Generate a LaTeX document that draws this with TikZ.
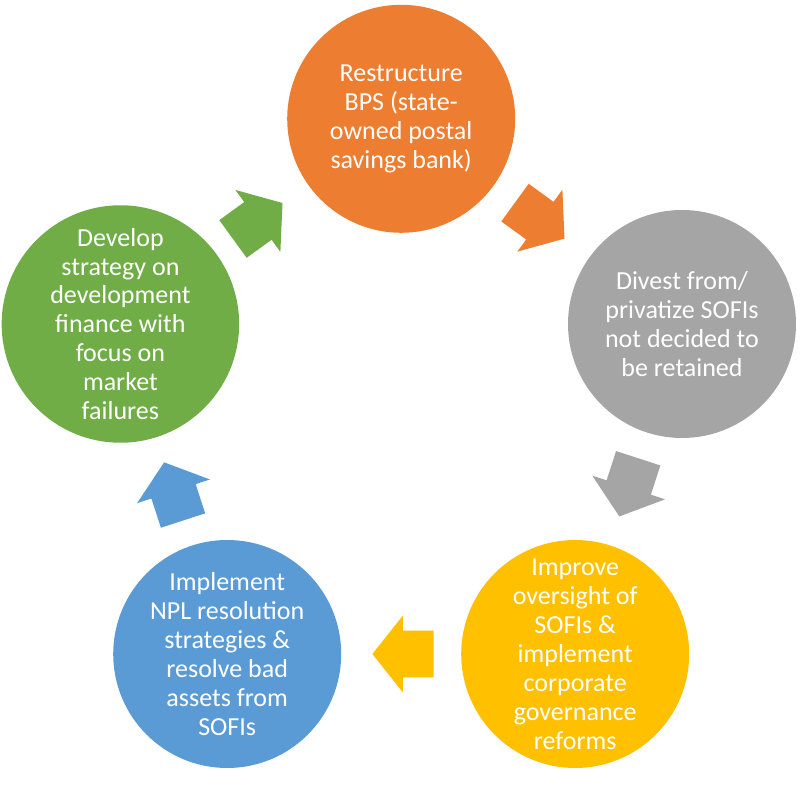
\documentclass[tikz,border=0pt]{standalone}
\usepackage{fontspec}
\setmainfont{Carlito}
\usetikzlibrary{positioning,shapes}
\definecolor{Tangerine}{HTML}{ED7D31}
\definecolor{Ash}{HTML}{A5A5A5}
\definecolor{Amber}{HTML}{FFC000}
\definecolor{Cornflower}{HTML}{5B9BD5}
\definecolor{Leaf}{HTML}{70AD47}

\begin{document}
\begin{tikzpicture}[
  stage/.style={circle, minimum size=5.7cm, inner sep=0pt, text=white, align=center, font=\fontsize{18.5}{20.6}\selectfont},
  turn/.style={single arrow, anchor=tip, minimum height=1.53cm, minimum width=1.9cm, single arrow head extend=0.375cm, single arrow tip angle=103, inner xsep=0pt, inner ysep=0.575cm}
]
\useasboundingbox (0,0) rectangle (20,20);

% Stages of the cycle
\node[stage, fill=Tangerine] (s1) at (10.03,17.03) {Restructure\\BPS (state-\\owned postal\\savings bank)};
\node[stage, fill=Ash] (s2) at (17.05,11.9) {Divest from/\\privatize SOFIs\\not decided to\\be retained};
\node[stage, fill=Amber] (s3) at (14.38,3.65) {Improve\\oversight of\\SOFIs \&\\implement\\corporate\\governance\\reforms};
\node[stage, fill=Cornflower] (s4) at (5.68,3.65) {Implement\\NPL resolution\\strategies \&\\resolve bad\\assets from\\SOFIs};
\node[stage, fill=Leaf] (s5) at (3.01,11.9) {Develop\\strategy on\\development\\finance with\\focus on\\market\\failures};

% Block arrows between stages (placed by their tips)
\node[turn, fill=Tangerine, rotate=-36] (a1) at (14.12,14.03) {};
\node[turn, fill=Ash, rotate=-108] (a2) at (15.48,7.08) {};
\node[turn, fill=Amber, rotate=180] (a3) at (9.3,3.65) {};
\node[turn, fill=Cornflower, rotate=108] (a4) at (4.1,8.45) {};
\node[turn, fill=Leaf, rotate=36] (a5) at (7.07,14.93) {};
\end{tikzpicture}
\end{document}
